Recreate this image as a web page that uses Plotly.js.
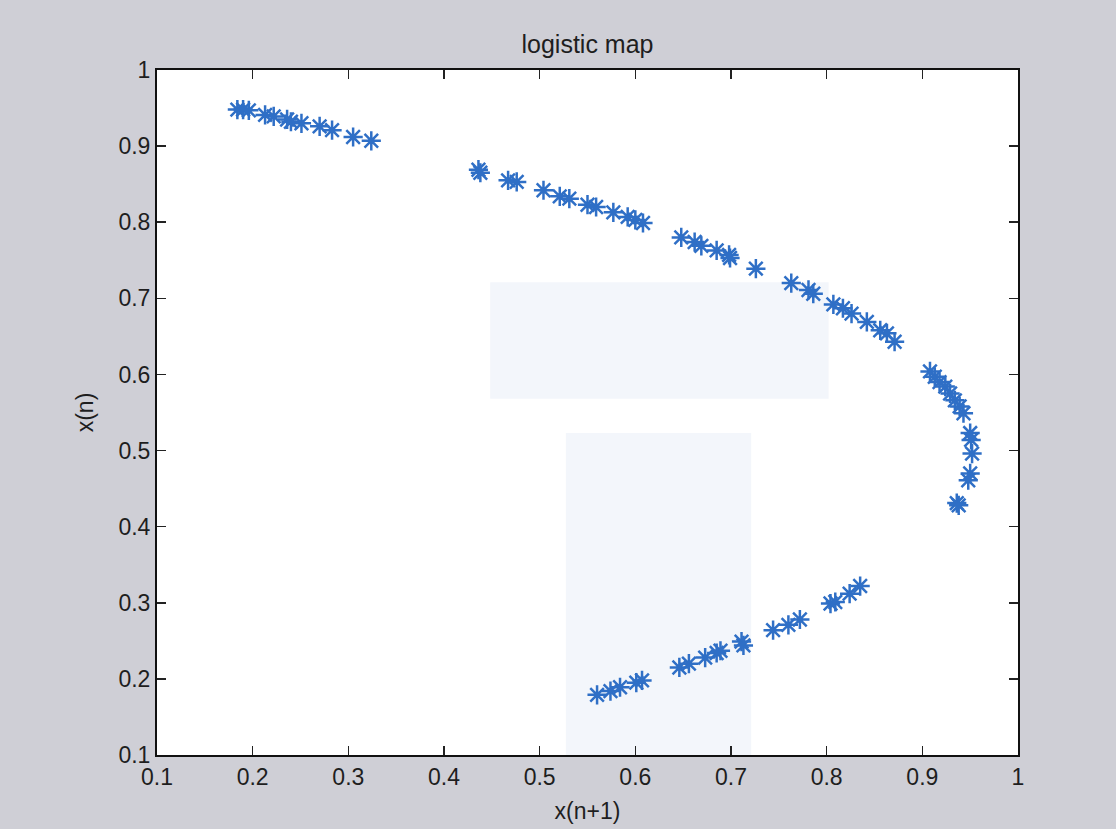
<!DOCTYPE html>
<html>
<head>
<meta charset="utf-8">
<script src="https://cdn.plot.ly/plotly-3.0.1.min.js"></script>
<style>html,body{margin:0;padding:0;background:#cfcfd6;}#chart{width:1116px;height:829px;}</style>
</head>
<body>
<div id="chart"></div>
<script>
// x(n+1) values (horizontal axis)
const xNext = [
  0.184, 0.190, 0.196, 0.213, 0.222, 0.236, 0.240, 0.251, 0.270, 0.283, 0.305, 0.324,
  0.436, 0.438, 0.467, 0.476, 0.504, 0.521, 0.531, 0.550, 0.559, 0.577, 0.592, 0.600, 0.608,
  0.648, 0.662, 0.669, 0.685, 0.698, 0.699, 0.726, 0.763, 0.781, 0.786, 0.807, 0.817, 0.826,
  0.842, 0.856, 0.863, 0.871,
  0.908, 0.913, 0.918, 0.924, 0.929, 0.934, 0.939, 0.943, 0.950, 0.951, 0.952, 0.950, 0.948,
  0.936, 0.938,
  0.560, 0.574, 0.584, 0.601, 0.607, 0.646, 0.656, 0.673, 0.685, 0.689, 0.711, 0.713,
  0.744, 0.760, 0.772, 0.804, 0.809, 0.824, 0.835
];
// x(n) values (vertical axis)
const xN = [
  0.948, 0.948, 0.947, 0.941, 0.939, 0.935, 0.932, 0.930, 0.926, 0.921, 0.912, 0.907,
  0.869, 0.865, 0.855, 0.853, 0.842, 0.834, 0.831, 0.823, 0.820, 0.813, 0.807, 0.803, 0.799,
  0.780, 0.774, 0.769, 0.763, 0.757, 0.753, 0.739, 0.720, 0.711, 0.706, 0.692, 0.687, 0.680,
  0.669, 0.658, 0.654, 0.643,
  0.604, 0.597, 0.590, 0.584, 0.575, 0.566, 0.558, 0.549, 0.523, 0.514, 0.496, 0.470, 0.461,
  0.431, 0.428,
  0.179, 0.184, 0.189, 0.195, 0.198, 0.215, 0.220, 0.228, 0.234, 0.237, 0.249, 0.244,
  0.264, 0.271, 0.278, 0.299, 0.301, 0.312, 0.322
];
const tickVals = [0.1, 0.2, 0.3, 0.4, 0.5, 0.6, 0.7, 0.8, 0.9, 1];
const tickText = ["0.1", "0.2", "0.3", "0.4", "0.5", "0.6", "0.7", "0.8", "0.9", "1"];

const fontFam = "Liberation Sans, Arial, sans-serif";
const txtColor = "#1e1e1e";
const axisCommon = {
  range: [0.1, 1],
  tickmode: "array",
  tickvals: tickVals,
  ticktext: tickText,
  ticks: "inside",
  ticklen: 9,
  tickwidth: 1.5,
  tickcolor: "#222",
  showline: true,
  linecolor: "#111",
  linewidth: 2,
  mirror: "ticks",
  showgrid: false,
  zeroline: false,
  tickfont: {family: fontFam, size: 23, color: txtColor}
};

const trace = {
  x: xNext,
  y: xN,
  type: "scatter",
  mode: "markers",
  marker: {
    symbol: "asterisk-open",
    size: 16,
    color: "#2f6fc6",
    line: {color: "#2f6fc6", width: 2.5}
  },
  hoverinfo: "x+y"
};

const layout = {
  width: 1116,
  height: 829,
  paper_bgcolor: "#cfcfd6",
  plot_bgcolor: "#ffffff",
  margin: {l: 157, r: 98, t: 70, b: 74},
  showlegend: false,
  title: {
    text: "logistic map",
    font: {family: fontFam, size: 25, color: txtColor},
    x: 0.5, xref: "paper", xanchor: "center",
    y: 1 - 44 / 829, yref: "container", yanchor: "middle"
  },
  xaxis: Object.assign({}, axisCommon, {
    title: {text: "x(n+1)", font: {family: fontFam, size: 23, color: txtColor}, standoff: 14}
  }),
  yaxis: Object.assign({}, axisCommon, {
    title: {text: "x(n)", font: {family: fontFam, size: 23, color: txtColor}, standoff: 18}
  }),
  shapes: [
    {type: "rect", xref: "paper", yref: "paper", layer: "below",
     x0: 0.387, x1: 0.78, y0: 0.52, y1: 0.69,
     fillcolor: "rgba(232,238,247,0.5)", line: {width: 0}},
    {type: "rect", xref: "paper", yref: "paper", layer: "below",
     x0: 0.475, x1: 0.69, y0: 0.0, y1: 0.47,
     fillcolor: "rgba(232,238,247,0.5)", line: {width: 0}}
  ]
};

Plotly.newPlot("chart", [trace], layout, {displayModeBar: false, staticPlot: true});
</script>
</body>
</html>
